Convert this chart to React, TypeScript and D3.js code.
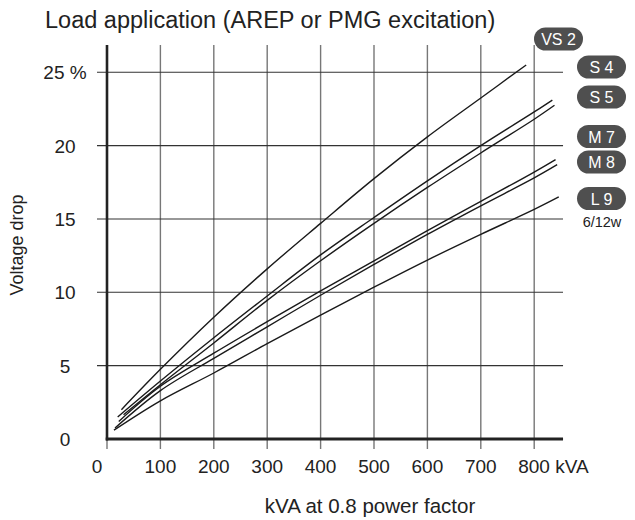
import React from "react";
import * as d3 from "d3";

const W = 635;
const H = 520;

const xTickValues = [0, 100, 200, 300, 400, 500, 600, 700, 800];
const yTickValues = [0, 5, 10, 15, 20, 25];
const yTickLabels = ["0", "5", "10", "15", "20", "25 %"];

const seriesNames = ["VS 2", "S 4", "S 5", "M 7", "M 8", "L 9"];

// [kVA, voltage drop %]
const vs2: [number, number][] = [[27, 2.0], [100, 4.75], [200, 8.3], [300, 11.6], [400, 14.7], [500, 17.75], [600, 20.6], [700, 23.25], [785, 25.5]];
const s4: [number, number][] = [[20, 1.5], [100, 3.95], [200, 6.9], [300, 9.75], [400, 12.55], [500, 15.1], [600, 17.6], [700, 20.0], [800, 22.3], [834, 23.1]];
const s5: [number, number][] = [[31, 1.65], [100, 3.7], [200, 6.55], [300, 9.45], [400, 12.15], [500, 14.7], [600, 17.15], [700, 19.5], [800, 21.8], [838, 22.75]];
const m7: [number, number][] = [[22, 1.2], [100, 3.6], [200, 5.85], [300, 8.0], [400, 10.1], [500, 12.15], [600, 14.2], [700, 16.2], [800, 18.2], [840, 19.05]];
const m8: [number, number][] = [[15, 0.75], [100, 3.3], [200, 5.5], [300, 7.65], [400, 9.8], [500, 11.9], [600, 13.95], [700, 15.9], [800, 17.8], [843, 18.7]];
const l9: [number, number][] = [[13, 0.6], [100, 2.6], [200, 4.5], [300, 6.5], [400, 8.45], [500, 10.35], [600, 12.2], [700, 13.95], [800, 15.65], [846, 16.5]];

const seriesData = [vs2, s4, s5, m7, m8, l9];

// badge layout (pixel centres)
const badgePos: [number, number][] = [[558.5, 39], [601.5, 67], [601.5, 97], [601.5, 136.5], [601.5, 162], [601.5, 198.5]];

const FONT = "'Liberation Sans', Arial, Helvetica, sans-serif";

export default function App() {
  const x = d3.scaleLinear().domain([0, 800]).range([107, 534.2]);
  const y = d3.scaleLinear().domain([0, 25]).range([439, 72.3]);
  const xEnd = x(854);
  const yTop = 45;

  const line = d3
    .line<[number, number]>()
    .x((d) => x(d[0]))
    .y((d) => y(d[1]))
    .curve(d3.curveCatmullRom.alpha(0.5));

  return (
    <svg width={W} height={H} style={{ position: "absolute", left: 0, top: 0, background: "#fff" }} fontFamily={FONT}>
      <rect x={0} y={0} width={W} height={H} fill="#fff" />
      <text x={45} y={28} fontSize={23.5} fill="#222">
        Load application (AREP or PMG excitation)
      </text>

      {/* vertical gridlines */}
      {xTickValues.map((v) => (
        <line
          key={"vx" + v}
          x1={x(v)}
          x2={x(v)}
          y1={v === 0 ? y(0) : yTop}
          y2={y(0) + 10}
          stroke="#777"
          strokeWidth={1.4}
        />
      ))}
      {/* horizontal gridlines */}
      {yTickValues
        .filter((v) => v > 0)
        .map((v) => (
          <line key={"hy" + v} x1={x(0) - 10} x2={xEnd} y1={y(v)} y2={y(v)} stroke="#333" strokeWidth={1.1} />
        ))}

      {/* axes */}
      <line x1={x(0)} x2={x(0)} y1={yTop} y2={y(0) + 1.5} stroke="#222" strokeWidth={2.6} />
      <line x1={x(0) - 1.3} x2={xEnd} y1={y(0)} y2={y(0)} stroke="#222" strokeWidth={3} />

      {/* curves */}
      {seriesData.map((d, i) => (
        <path key={"s" + i} d={line(d) || ""} fill="none" stroke="#1a1a1a" strokeWidth={1.4} />
      ))}

      {/* x tick labels */}
      {xTickValues.map((v) => {
        if (v === 0) {
          return (
            <text key={"xt" + v} x={x(0) - 10} y={473} fontSize={19} textAnchor="middle" fill="#222">
              0
            </text>
          );
        }
        if (v === 800) {
          return (
            <text key={"xt" + v} x={x(v) - 16} y={473} fontSize={19} textAnchor="start" fill="#222">
              800 kVA
            </text>
          );
        }
        return (
          <text key={"xt" + v} x={x(v)} y={473} fontSize={19} textAnchor="middle" fill="#222">
            {String(v)}
          </text>
        );
      })}

      {/* y tick labels */}
      {yTickValues.map((v, i) => (
        <text key={"yt" + v} x={65} y={y(v) + 7} fontSize={19} textAnchor="middle" fill="#222">
          {yTickLabels[i]}
        </text>
      ))}

      <text x={370} y={513} fontSize={20.5} textAnchor="middle" fill="#222">
        kVA at 0.8 power factor
      </text>
      <text transform={`translate(23,245) rotate(-90)`} fontSize={18} textAnchor="middle" fill="#222">
        Voltage drop
      </text>

      {/* badges */}
      {seriesNames.map((n, i) => (
        <g key={"b" + i} transform={`translate(${badgePos[i][0]},${badgePos[i][1]})`}>
          <rect x={-24.5} y={-11.5} width={49} height={23} rx={11.5} ry={11.5} fill="#4f4f4f" />
          <text x={0} y={6} fontSize={16} textAnchor="middle" fill="#fff">
            {n}
          </text>
        </g>
      ))}
      <text x={602} y={227} fontSize={14.5} textAnchor="middle" fill="#222">
        6/12w
      </text>
    </svg>
  );
}
